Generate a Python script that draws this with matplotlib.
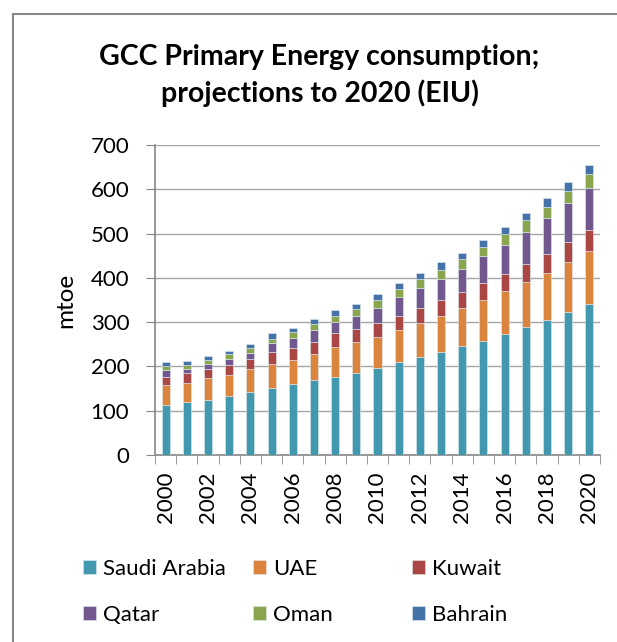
import numpy as np
import matplotlib
matplotlib.use("Agg")
import matplotlib.pyplot as plt
import matplotlib.patches as patches

plt.rcParams["font.family"] = ["Lato", "DejaVu Sans"]

# data (mtoe)
years = list(range(2000, 2021))
saudi = [114, 119, 125, 133, 142, 151, 160, 169, 177, 186, 197, 210, 221, 233, 246, 258, 273, 290, 304, 322, 340]
uae = [43, 43, 49, 47, 52, 55, 55, 60, 66, 69, 69, 72, 78, 81, 87, 93, 98, 101, 107, 113, 121]
kuwait = [20, 23, 21, 23, 23, 26, 26, 27, 32, 29, 32, 32, 32, 37, 34, 37, 37, 41, 43, 46, 46]
qatar = [14, 9, 11, 14, 14, 20, 23, 26, 25, 29, 35, 43, 46, 47, 53, 61, 67, 72, 81, 87, 96]
oman = [9, 9, 9, 10, 11, 11, 14, 14, 15, 17, 17, 17, 20, 20, 23, 20, 23, 26, 26, 29, 32]
bahrain = [9, 9, 9, 8, 9, 12, 9, 11, 12, 11, 14, 15, 14, 17, 14, 17, 17, 17, 20, 20, 20]

names = ["Saudi Arabia", "UAE", "Kuwait", "Qatar", "Oman", "Bahrain"]
series = [saudi, uae, kuwait, qatar, oman, bahrain]
colors = ["#4198AF", "#DB843D", "#AA4643", "#71588F", "#89A54E", "#4572A7"]

W, H = 617, 642
fig = plt.figure(figsize=(W / 100, H / 100), dpi=100)

# outer chart frame (runs off right/bottom edge like the screenshot)
fig.patches.append(patches.Rectangle((12.5 / W, -0.1), 1.2, 1 - 13.5 / H + 0.1,
                                     transform=fig.transFigure, fill=False,
                                     edgecolor="#888888", linewidth=1.5))

ax = fig.add_axes([155 / W, 1 - 455 / H, 445 / W, 310 / H])

x = np.arange(len(years))
bottom = np.zeros(len(years))
handles = []
for name, vals, c in zip(names, series, colors):
    vals = np.array(vals, dtype=float)
    b = ax.bar(x, vals, 0.38, bottom=bottom, color=c, label=name,
               edgecolor="#dfe9ee", linewidth=0.4, zorder=3)
    handles.append(b)
    bottom += vals

ax.set_xlim(-0.5, len(years) - 0.5)
ax.set_ylim(0, 700)
ax.set_yticks(range(0, 701, 100))
ax.tick_params(axis="y", labelsize=16, length=6.5, color="#888888", pad=12)
ax.grid(axis="y", color="#a6a6a6", linewidth=1, zorder=0)
ax.set_axisbelow(True)

ax.set_xticks(x[::2])
ax.set_xticklabels([str(y) for y in years[::2]], rotation=90, fontsize=16)
ax.set_xticks(np.arange(-0.5, len(years), 1), minor=True)
ax.tick_params(axis="x", which="major", length=0, pad=12)
ax.tick_params(axis="x", which="minor", length=6.5, color="#888888")

for s in ["top", "right"]:
    ax.spines[s].set_visible(False)
for s in ["left", "bottom"]:
    ax.spines[s].set_color("#888888")
    ax.spines[s].set_linewidth(1.2)

ax.set_ylabel("mtoe", fontsize=17.5, labelpad=10)

fig.text(319.5 / W, 1 - 65 / H, "GCC Primary Energy consumption;",
         ha="center", va="baseline", fontsize=20.5, fontweight="bold")
fig.text(319.5 / W, 1 - 102 / H, "projections to 2020 (EIU)",
         ha="center", va="baseline", fontsize=20.5, fontweight="bold")

# legend: three columns placed like the original
col_x = [83 / W, 253 / W, 412 / W]
for i, cx in enumerate(col_x):
    hs = [handles[i], handles[i + 3]]
    fig.legend(hs, [names[i], names[i + 3]], loc="center left",
               bbox_to_anchor=(cx, 1 - 592 / H), frameon=False,
               fontsize=16, handlelength=0.58, handleheight=0.58,
               handletextpad=0.32, labelspacing=1.15, borderpad=0,
               borderaxespad=0)

fig.savefig("out.png", dpi=100)
